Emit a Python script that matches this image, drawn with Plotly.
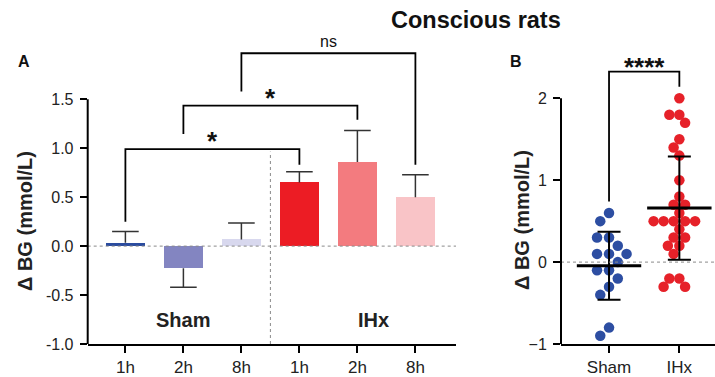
import numpy as np
import plotly.graph_objects as go

# ---------------- data ----------------
time_labels = ['1h', '2h', '8h', '1h', '2h', '8h']
group_labels_a = ['Sham', 'IHx']
bar_means = [0.035, -0.225, 0.068, 0.65, 0.86, 0.50]
bar_err_up = [0.115, 0.0, 0.167, 0.11, 0.32, 0.23]
bar_err_down = [0.0, 0.195, 0.0, 0.0, 0.0, 0.0]
y_ticks_a = [-1.0, -0.5, 0.0, 0.5, 1.0, 1.5]
y_ticktext_a = ['-1.0', '-0.5', '0.0', '0.5', '1.0', '1.5']

# comparisons in panel A: (left cat, right cat, top, left leg end, right leg end, label)
brackets_a = [
    (0, 3, 0.99, 0.25, 0.83, '*'),
    (1, 4, 1.435, 1.145, 1.29, '*'),
    (2, 5, 1.97, 1.58, 0.83, 'ns'),
]

group_labels_b = ['Sham', 'IHx']
sham_values = [0.6, 0.5, 0.3, 0.3, 0.2, 0.1, 0.1, 0.1, 0.0, -0.1, -0.1, -0.2,
               -0.3, -0.4, -0.8, -0.9]
ihx_values = [2.0, 1.8, 1.8, 1.7, 1.5, 1.4, 1.3, 1.0, 0.8, 0.7, 0.7, 0.6,
              0.5, 0.5, 0.5, 0.5, 0.5, 0.4, 0.3, 0.3, 0.2, 0.2, 0.1,
              -0.2, -0.2, -0.3, -0.3]
group_means_b = [-0.045, 0.66]
group_sd_b = [0.415, 0.63]
y_ticks_b = [-1, 0, 1, 2]
bracket_b = (0, 1, 2.325, 0.74, 2.14, '****')

# ---------------- styles / layout ----------------
W, H = 715, 377
FONT = 'Liberation Sans, Arial, sans-serif'
bar_colors = ['#2b4c9f', '#8385c1', '#d8d8ee', '#ec1c24', '#f37b7f', '#f9c4c7']
dot_colors = ['#2d4ea2', '#e62129']

xdom_a = [87.7 / W, 456 / W]
xrange_a = [-0.65, 5.7]
ydom = [33 / H, 1.0]
yrange_a = [-1.0, 2.514]

xdom_b = [561 / W, 1.0]
xrange_b = [-0.683, 1.507]
yrange_b = [-1.0, 3.2]

fig = go.Figure()

# bars
fig.add_trace(go.Bar(
    x=list(range(len(bar_means))), y=bar_means, width=0.67,
    marker=dict(color=bar_colors, line=dict(width=0)),
    xaxis='x', yaxis='y', showlegend=False, hoverinfo='skip'))

# error bars (one-sided)
for i, (m, up, dn) in enumerate(zip(bar_means, bar_err_up, bar_err_down)):
    end = m + up if up > 0 else m - dn
    fig.add_trace(go.Scatter(
        x=[i, i], y=[m, end], mode='lines',
        line=dict(color='#333333', width=1.5),
        xaxis='x', yaxis='y', showlegend=False, hoverinfo='skip'))
    fig.add_trace(go.Scatter(
        x=[i], y=[end], mode='markers',
        marker=dict(symbol='line-ew', size=19, line=dict(color='#333333', width=1.5)),
        xaxis='x', yaxis='y', showlegend=False, hoverinfo='skip'))

# brackets panel A
for (xl, xr, yt, yl, yr, lab) in brackets_a:
    fig.add_trace(go.Scatter(
        x=[xl, xl, xr, xr], y=[yl, yt, yt, yr], mode='lines',
        line=dict(color='black', width=1.8),
        xaxis='x', yaxis='y', showlegend=False, hoverinfo='skip', cliponaxis=False))
    if lab == 'ns':
        fig.add_annotation(x=(xl + xr) / 2, y=yt, xref='x', yref='y', text=lab,
                           showarrow=False, xanchor='center', yanchor='bottom', yshift=1,
                           font=dict(family=FONT, size=16, color='#111'))
    else:
        fig.add_annotation(x=(xl + xr) / 2, y=yt, xref='x', yref='y', text='<b>' + lab + '</b>',
                           showarrow=False, xanchor='center', yanchor='bottom', yshift=-9,
                           font=dict(family=FONT, size=26, color='#111'))

# beeswarm positions for panel B
ppu_x_b = W * (xdom_b[1] - xdom_b[0]) / (xrange_b[1] - xrange_b[0])
ppu_y_b = H * (ydom[1] - ydom[0]) / (yrange_b[1] - yrange_b[0])


def swarm(values, diam):
    placed, xs = [], []
    for v in values:
        y = v * ppu_y_b
        cands = [0.0]
        for (px, py) in placed:
            dy = abs(py - y)
            if dy < diam:
                dx = np.sqrt(diam ** 2 - dy ** 2)
                cands += [px - dx, px + dx]
        cands.sort(key=lambda c: (round(abs(c), 6), c))
        chosen = 0.0
        for c in cands:
            if all((c - px) ** 2 + (y - py) ** 2 >= diam ** 2 - 1e-6 for px, py in placed):
                chosen = c
                break
        placed.append((chosen, y))
        xs.append(chosen / ppu_x_b)
    return xs


for gi, (vals, diam) in enumerate([(sham_values, 12.0), (ihx_values, 10.0)]):
    offs = swarm(vals, diam)
    fig.add_trace(go.Scatter(
        x=[gi + o for o in offs], y=vals, mode='markers',
        marker=dict(size=10.5, color=dot_colors[gi], line=dict(width=0)),
        xaxis='x2', yaxis='y2', showlegend=False, hoverinfo='skip'))

# mean +/- SD
fig.add_trace(go.Scatter(
    x=[0, 1], y=group_means_b, mode='markers',
    marker=dict(symbol='line-ew', size=46, line=dict(color='black', width=3)),
    error_y=dict(type='data', array=group_sd_b, visible=True, color='black',
                 thickness=2, width=11.5),
    xaxis='x2', yaxis='y2', showlegend=False, hoverinfo='skip'))

# bracket panel B
xl, xr, yt, yl, yr, lab = bracket_b
fig.add_trace(go.Scatter(
    x=[xl, xl, xr, xr], y=[yl, yt, yt, yr], mode='lines',
    line=dict(color='black', width=1.8),
    xaxis='x2', yaxis='y2', showlegend=False, hoverinfo='skip', cliponaxis=False))
fig.add_annotation(x=(xl + xr) / 2, y=yt, xref='x2', yref='y2', text='<b>' + lab + '</b>',
                   showarrow=False, xanchor='center', yanchor='bottom', yshift=-12,
                   font=dict(family=FONT, size=26, color='#111'))

# reference lines & axis lines as shapes
dot_line = dict(color='#8a8a8a', width=1, dash='dot')
fig.add_shape(type='line', xref='x domain', yref='y', x0=0, x1=1, y0=0, y1=0, line=dot_line)
fig.add_shape(type='line', xref='x', yref='y', x0=2.5, x1=2.5, y0=-1.0, y1=0.965, line=dot_line)
fig.add_shape(type='line', xref='x2 domain', yref='y2', x0=0, x1=1, y0=0, y1=0, line=dot_line)
fig.add_shape(type='line', xref='x domain', yref='y', x0=0, x1=0, y0=y_ticks_a[0], y1=y_ticks_a[-1],
              line=dict(color='black', width=2))
fig.add_shape(type='line', xref='x2 domain', yref='y2', x0=0, x1=0, y0=y_ticks_b[0], y1=y_ticks_b[-1],
              line=dict(color='black', width=2))

# group labels in panel A
fig.add_annotation(x=1, y=-0.755, xref='x', yref='y', text='<b>Sham</b>', showarrow=False,
                   xanchor='center', yanchor='middle',
                   font=dict(family=FONT, size=20, color='#222'))
fig.add_annotation(x=4.27, y=-0.755, xref='x', yref='y', text='<b>IHx</b>', showarrow=False,
                   xanchor='center', yanchor='middle',
                   font=dict(family=FONT, size=20, color='#222'))


def paper_text(px, py, text, size, angle=0, color='#111'):
    fig.add_annotation(x=px / W, y=1 - py / H, xref='paper', yref='paper', text=text,
                       showarrow=False, xanchor='center', yanchor='middle', textangle=angle,
                       font=dict(family=FONT, size=size, color=color))


paper_text(475.5, 20, '<b>Conscious rats</b>', 23.5)
paper_text(23.5, 61.7, '<b>A</b>', 16)
paper_text(516, 61, '<b>B</b>', 16)
paper_text(25, 221, '<b>Δ BG (mmol/L)</b>', 20, -90, '#222')
paper_text(522, 220, '<b>Δ BG (mmol/L)</b>', 20, -90, '#222')

axis_common = dict(showgrid=False, zeroline=False, fixedrange=True, ticks='outside',
                   ticklen=7, tickwidth=2, tickcolor='black')
ytick_font = dict(family=FONT, size=16, color='#222')
xtick_font = dict(family=FONT, size=17, color='#222')

fig.update_layout(
    width=W, height=H, autosize=False, margin=dict(l=0, r=0, t=0, b=0, autoexpand=False),
    paper_bgcolor='white', plot_bgcolor='white', showlegend=False,
    xaxis=dict(domain=xdom_a, range=xrange_a, anchor='y', tickvals=list(range(6)),
               ticktext=time_labels, showline=True, linewidth=2, linecolor='black',
               tickfont=xtick_font, **axis_common),
    yaxis=dict(domain=ydom, range=yrange_a, anchor='x', tickvals=y_ticks_a,
               ticktext=y_ticktext_a, showline=False, ticklabelstandoff=3,
               tickfont=ytick_font, **axis_common),
    xaxis2=dict(domain=xdom_b, range=xrange_b, anchor='y2', tickvals=[0, 1],
                ticktext=group_labels_b, showline=True, linewidth=2, linecolor='black',
                tickfont=xtick_font, **axis_common),
    yaxis2=dict(domain=ydom, range=yrange_b, anchor='x2', tickvals=y_ticks_b,
                showline=False, ticklabelstandoff=3, tickfont=ytick_font, **axis_common),
    bargap=0,
)

fig.write_html('out.html', config={'displayModeBar': False, 'responsive': False},
               post_script="document.body.style.margin='0';")
